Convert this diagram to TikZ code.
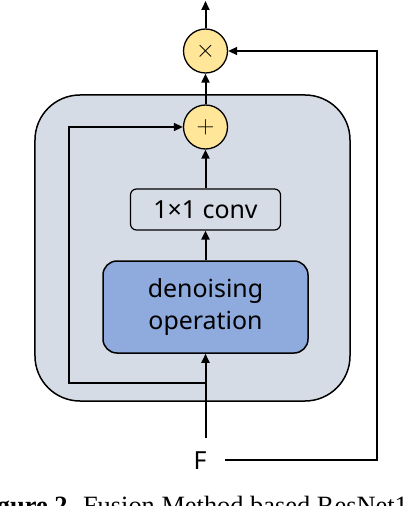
\documentclass[tikz,border=0pt]{standalone}
\usepackage{fontspec}
\setmainfont{Liberation Serif}
\newfontfamily\diagfont{Noto Sans}
\usetikzlibrary{arrows.meta}
\definecolor{panel}{HTML}{D6DCE5}
\definecolor{opblue}{HTML}{8FAADC}
\definecolor{joint}{HTML}{FFE699}

\begin{document}
\begin{tikzpicture}[x=1bp, y=-1bp,
    flow/.style={-{Triangle[length=9bp,width=8bp]}, line width=2bp},
    wire/.style={-{Triangle[length=9bp,width=8bp]}, line width=1.6bp},
    junction/.style={circle, draw, line width=1.3bp, fill=joint, minimum size=44bp, inner sep=0pt, font=\fontsize{28}{28}\selectfont},
    opfont/.style={font=\diagfont\fontsize{25}{33}\selectfont, align=center}]
    \useasboundingbox (0,0) rectangle (412,506);

    % block
    \node (block) at (192.5,248) [draw, line width=1.5bp, rounded corners=45bp, fill=panel, minimum width=315bp, minimum height=306bp] {};

    \node (den) at (205.5,307) [draw, line width=1.5bp, rounded corners=14bp, fill=opblue, minimum width=205bp, minimum height=92bp, opfont] {denoising\\operation};
    \node (conv) at (205.5,209.5) [draw, line width=1.2bp, rounded corners=6bp, minimum width=150bp, minimum height=41bp, inner sep=0pt, opfont] {1×1 conv};
    \node (add) at (205.5,127) [junction] {$+$};
    \node (mul) at (205.5,51) [junction] {$\times$};
    \node (fin) at (200,461) [opfont] {F};

    \coordinate (out) at (205.5,1);
    \coordinate (fup) at (205.5,438);
    \coordinate (fork) at (205.5,383);
    \coordinate (skip) at (69,127);
    \coordinate (fout) at (225,460);
    \coordinate (loop) at (377,460);

    % main path
    \draw [flow] (fup) -- (den);
    \draw [flow] (den) -- (conv);
    \draw [flow] (conv) -- (add);
    \draw [flow] (add) -- (mul);
    \draw [flow] (mul) -- (out);

    % shortcut
    \draw [wire] (fork) -| (skip) -- (add);
    \draw [wire] (fout) -- (loop) |- (mul);

    % caption
    \node (cap) at (-30,514) [anchor=base west, font=\fontsize{26.5}{30}\selectfont] {\textbf{Figure 2}. Fusion Method based ResNet1};
\end{tikzpicture}
\end{document}
